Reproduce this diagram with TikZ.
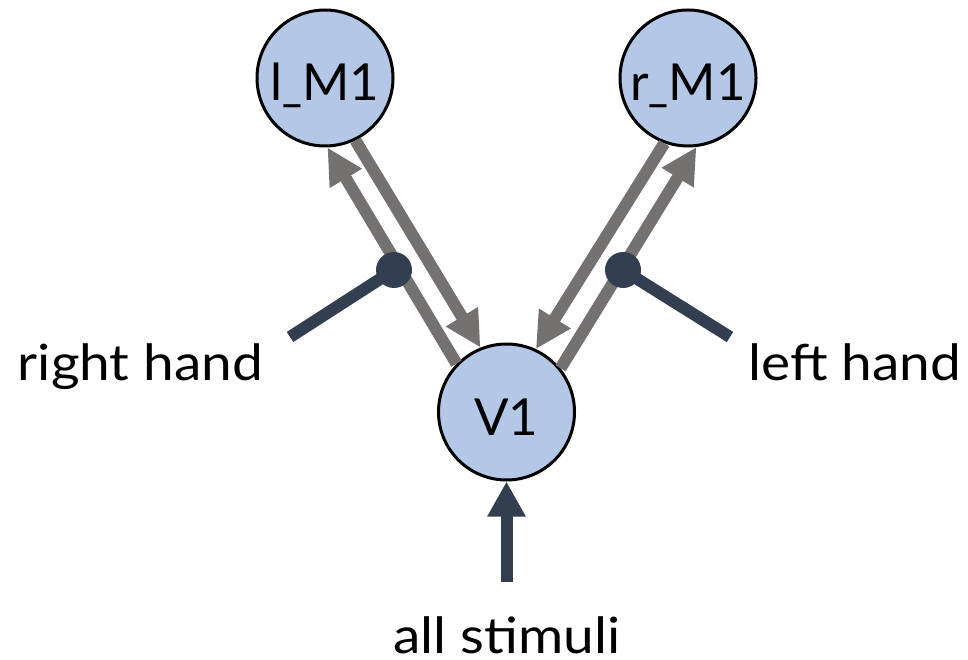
\documentclass[tikz,border=0pt]{standalone}
\usepackage{fontspec}
\setmainfont{Lato}
\newfontfamily\widelato{Lato}[FakeStretch=1.1]
\usetikzlibrary{arrows.meta}
\definecolor{areafill}{HTML}{B4C7E7}
\definecolor{conngray}{HTML}{767171}
\definecolor{inputnavy}{HTML}{333F50}
\newcommand{\narrowus}{\scalebox{0.85}[1]{\_}}
\tikzset{
  area/.style={circle, draw=black, line width=3pt, fill=areafill,
    minimum size=136pt, inner sep=0pt, text height=46pt, text depth=0pt,
    font=\fontsize{51}{55}\selectfont},
  conn/.style={draw=conngray, line width=12pt,
    -{Triangle[length=36pt,width=35pt]}},
  drive/.style={draw=inputnavy, line width=12pt,
    -{Triangle[length=35pt,width=36pt]}},
  modline/.style={draw=inputnavy, line width=12pt},
  moddot/.style={circle, fill=inputnavy, minimum size=36pt, inner sep=0pt},
  lbl/.style={anchor=base, inner sep=0pt, font=\widelato\fontsize{50}{54}\selectfont}
}
\begin{document}
\begin{tikzpicture}[x=1pt, y=-1pt]
  \useasboundingbox (0,0) rectangle (968,660);

  % cortical areas
  \node[area] (lM1) at (325,78) {l\narrowus M1};
  \node[area] (rM1) at (688,78) {r\narrowus M1};
  \node[area] (V1)  at (506.5,412) {V1};

  % reciprocal connections
  \draw[conn] (V1.136) -- (lM1.-88);
  \draw[conn] (lM1.-64) -- (V1.112);
  \draw[conn] (rM1.-110) -- (V1.65);
  \draw[conn] (V1.39) -- (rM1.-83);

  % modulatory inputs
  \node[moddot] (rhdot) at (394,270) {};
  \node[moddot] (lhdot) at (623,270) {};
  \coordinate (rhend) at (290,337);
  \coordinate (lhend) at (730,337);
  \draw[modline] (rhend) -- (rhdot.center);
  \draw[modline] (lhend) -- (lhdot.center);

  % driving input
  \coordinate (stimend) at (506.5,582);
  \draw[drive] (stimend) -- (V1.south);

  % labels
  \node[lbl] (rhlbl) at (140.5,380) {right hand};
  \node[lbl] (lhlbl) at (855,380) {left hand};
  \node[lbl] (stimlbl) at (507,653) {all stimuli};
\end{tikzpicture}
\end{document}
